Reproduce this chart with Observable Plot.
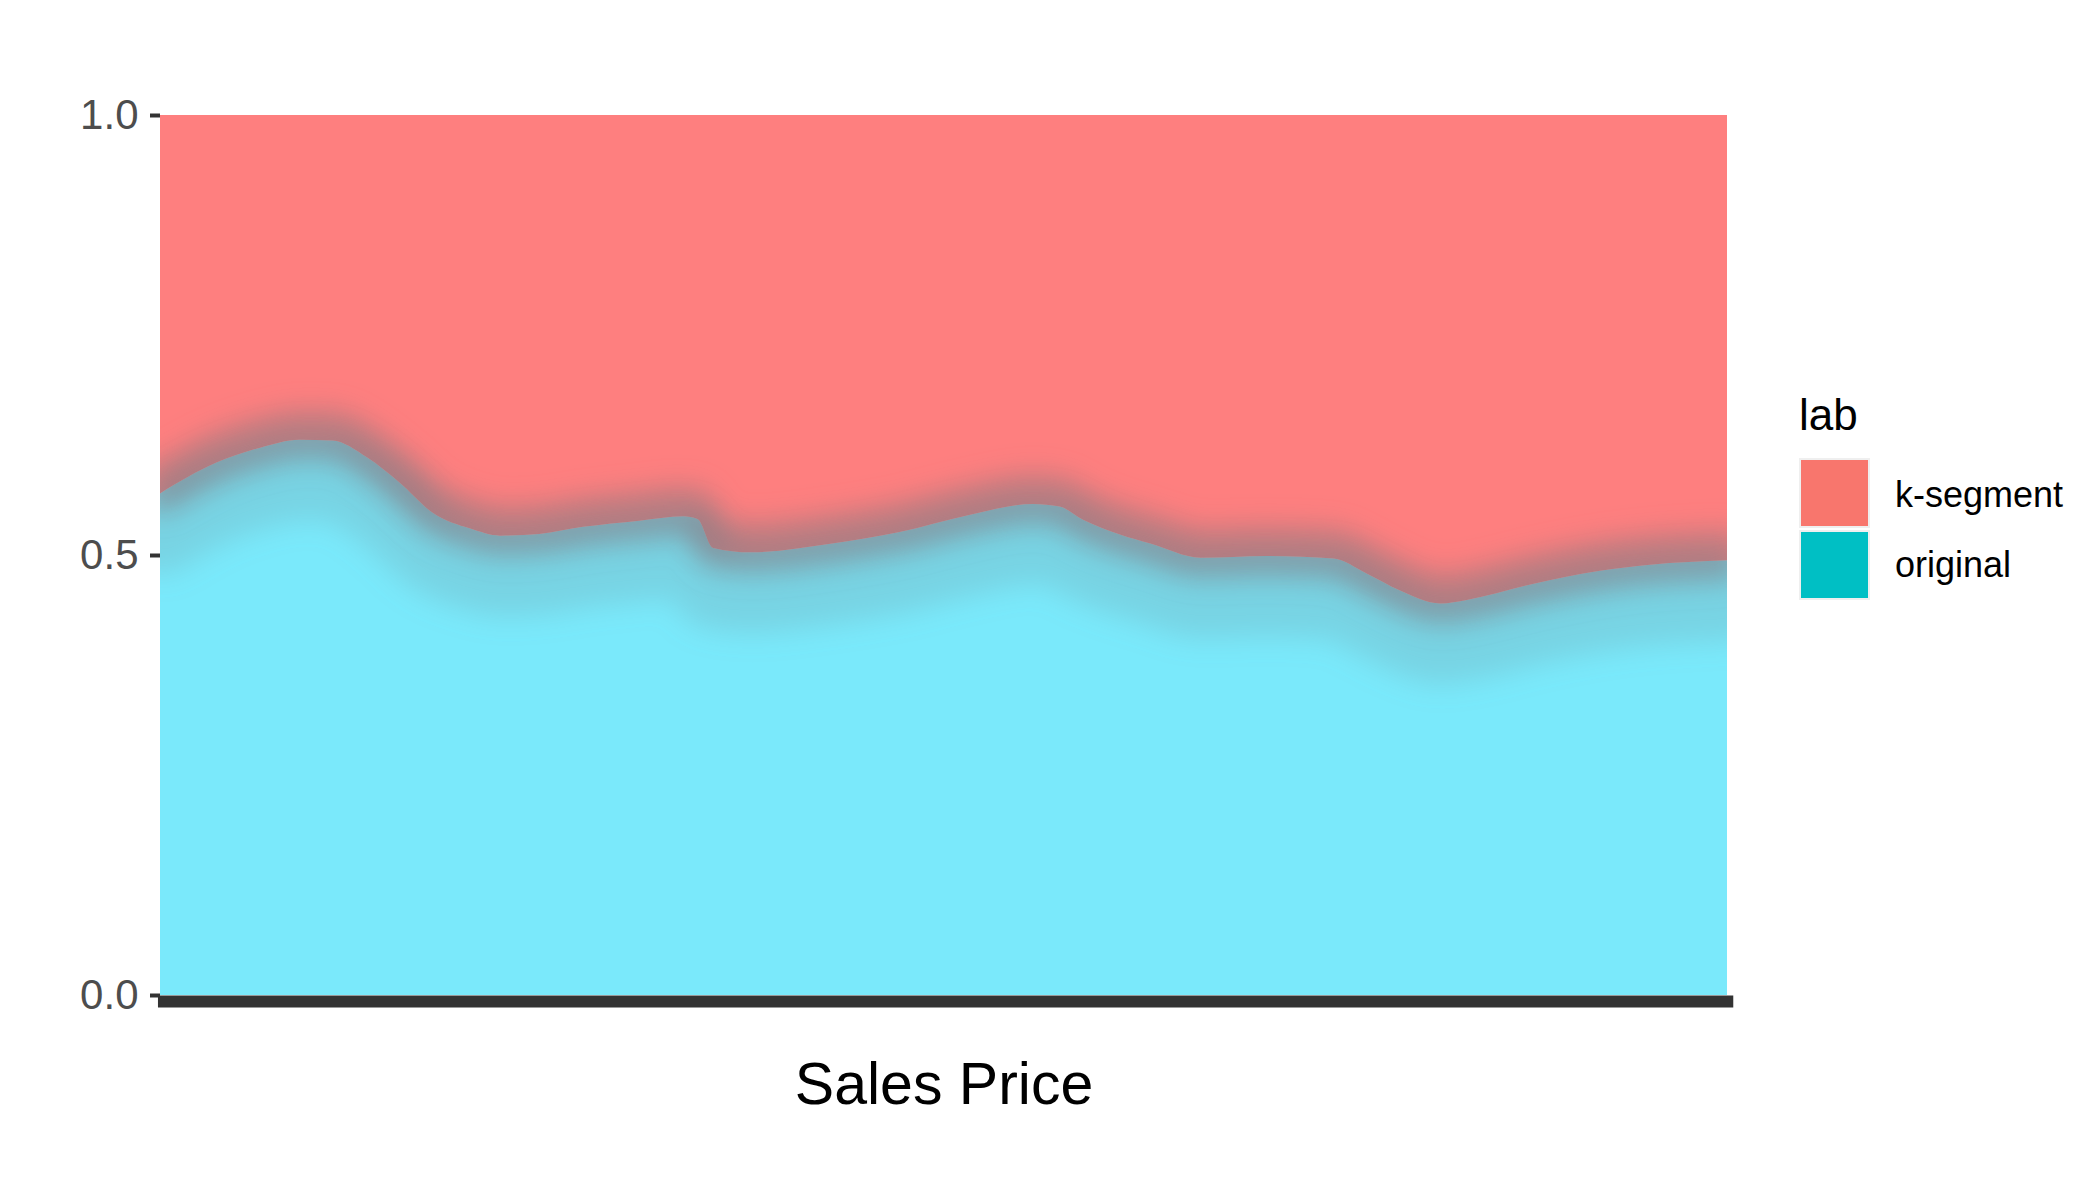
<!DOCTYPE html>
<html><head><meta charset="utf-8">
<script src="https://cdn.jsdelivr.net/npm/d3@7"></script>
<script src="https://cdn.jsdelivr.net/npm/@observablehq/plot@0.6"></script>
<style>
body{margin:0;background:#fff;font-family:"Liberation Sans",Arial,sans-serif;}
#wrap{position:relative;width:2094px;height:1182px;overflow:hidden;}
#wrap svg{position:absolute;left:0;top:0;}
.lg{position:absolute;line-height:1;white-space:nowrap;color:#000;}
.sw{position:absolute;width:67px;height:66px;border:2px solid #efefef;}
</style></head><body><div id="wrap"></div>
<script>
// Sales price position (0 = left edge, 100 = right edge of the panel; axis has no tick labels)
const price = [0, 3.6, 6.4, 8.9, 11.0, 13.2, 15.3, 17.4, 19.8, 21.7, 24.2, 27.0, 30.6, 33.4, 34.3, 35.3, 37.7, 42.9, 47.2, 51.5, 55.7, 57.4, 58.9, 61.3, 63.2, 66.4, 70.6, 74.9, 77.0, 79.1, 81.7, 83.4, 87.6, 91.9, 95.1, 100];
// share of "original" (filled proportion, bottom layer)
const originalShare = [0.570, 0.605, 0.622, 0.631, 0.630, 0.611, 0.582, 0.548, 0.530, 0.522, 0.524, 0.532, 0.539, 0.544, 0.541, 0.508, 0.503, 0.513, 0.526, 0.545, 0.558, 0.555, 0.540, 0.523, 0.513, 0.497, 0.499, 0.496, 0.479, 0.460, 0.445, 0.449, 0.467, 0.482, 0.489, 0.494];
const categories = ["k-segment", "original"];
const legendColors = ["#F8766D", "#00BFC4"];
const areaColors = ["#FE7F7F", "#7AE9FB"];
const yTicks = [0, 0.5, 1.0];
const legendTitle = "lab";
const xLabel = "Sales Price";

const rows = price.map((p, i) => ({price: p, share: originalShare[i]}));

const svg = Plot.plot({
  width: 2094, height: 1182,
  marginLeft: 160, marginRight: 367, marginTop: 115, marginBottom: 187,
  style: {fontFamily: '"Liberation Sans", Arial, sans-serif', background: "#fff"},
  x: {domain: [0, 100], axis: null},
  y: {domain: [0, 1], axis: null},
  marks: [
    Plot.areaY(rows, {x: "price", y1: 0, y2: "share", fill: areaColors[1], curve: "monotone-x"}),
    Plot.areaY(rows, {x: "price", y1: "share", y2: 1, fill: areaColors[0], curve: "monotone-x"}),
    Plot.line(rows, {x: "price", y: "share", stroke: "#6f98a0", strokeWidth: 80, strokeOpacity: 0.26, dy: 40, curve: "monotone-x"}),
    Plot.line(rows, {x: "price", y: "share", stroke: "#9a7a80", strokeWidth: 30, strokeOpacity: 0.55, dy: -16, curve: "monotone-x"}),
    Plot.line(rows, {x: "price", y: "share", stroke: "#807c84", strokeWidth: 30, strokeOpacity: 0.6, dy: 4, curve: "monotone-x"}),
    Plot.axisY({ticks: yTicks, tickFormat: d3.format(".1f"), tickSize: 10, tickPadding: 12, fontSize: 42, fill: "#4d4d4d", stroke: "#333", strokeWidth: 4, label: null}),
    Plot.ruleY([0], {x1: () => -0.13, x2: () => 100.4, stroke: "#333", strokeWidth: 12, dy: 6}),
    Plot.text([xLabel], {frameAnchor: "bottom", dy: 108, fontSize: 59, fill: "#000"})
  ]
});

// soft blur for the boundary shading
const ns = "http://www.w3.org/2000/svg";
const defs = document.createElementNS(ns, "defs");
defs.innerHTML = '<filter id="blurA" x="-10%" y="-80%" width="120%" height="260%"><feGaussianBlur stdDeviation="14"/></filter>';
svg.insertBefore(defs, svg.firstChild);
svg.querySelectorAll('g[aria-label="line"]').forEach(g => g.setAttribute("filter", "url(#blurA)"));
// clip lines to the panel
const clip = document.createElementNS(ns, "clipPath");
clip.setAttribute("id", "panelClip");
clip.innerHTML = '<rect x="160" y="115" width="1567" height="880"/>';
defs.appendChild(clip);
svg.querySelectorAll('g[aria-label="line"]').forEach(g => {
  const w = document.createElementNS(ns, "g");
  w.setAttribute("clip-path", "url(#panelClip)");
  g.parentNode.insertBefore(w, g);
  w.appendChild(g);
});

const wrap = document.getElementById("wrap");
wrap.appendChild(svg);

function addText(txt, left, top, size) {
  const d = document.createElement("div");
  d.className = "lg";
  d.textContent = txt;
  d.style.left = left + "px";
  d.style.top = top + "px";
  d.style.fontSize = size + "px";
  wrap.appendChild(d);
}
addText(legendTitle, 1799, 393, 44);
categories.forEach((c, i) => {
  const s = document.createElement("div");
  s.className = "sw";
  s.style.left = "1799px";
  s.style.top = (458 + i * 72) + "px";
  s.style.background = legendColors[i];
  wrap.appendChild(s);
  addText(c, 1895, 477 + i * 70, 36);
});
</script>
</body></html>
